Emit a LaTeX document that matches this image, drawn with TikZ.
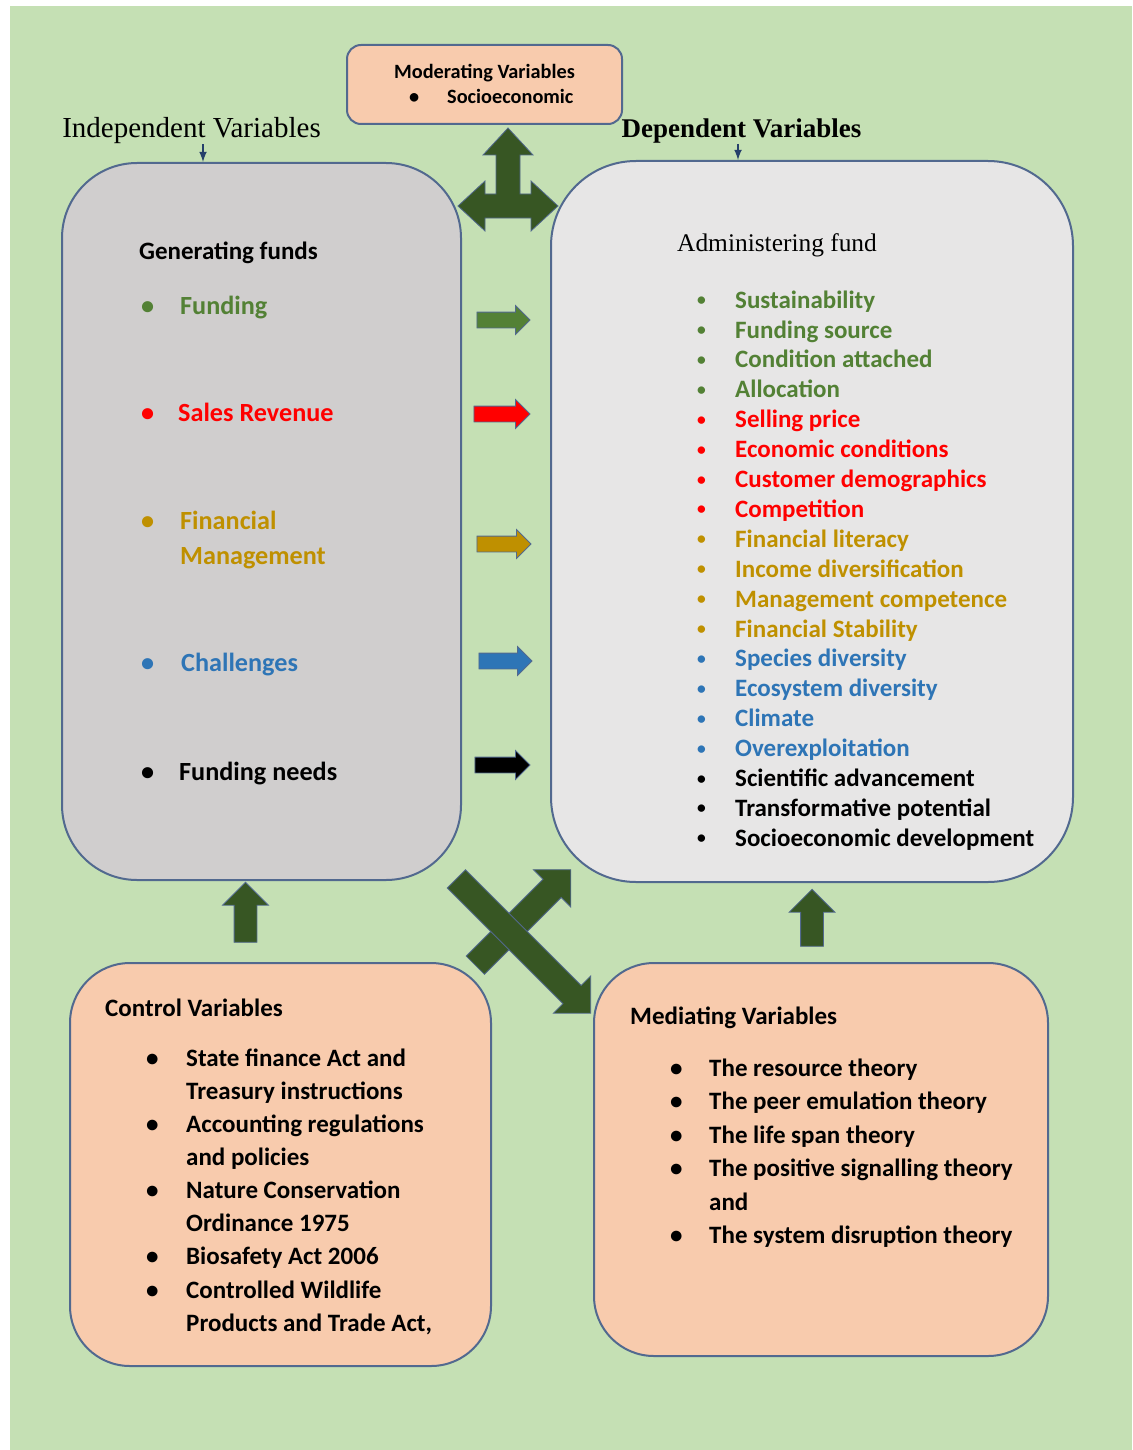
\documentclass[tikz,border=0pt]{standalone}
\usepackage{fontspec}
\setmainfont{Carlito}
\newfontfamily\headfont{Liberation Serif}
\usepackage{xcolor}
\usetikzlibrary{shapes,arrows}

\definecolor{bggreen}{HTML}{C5E0B4}
\definecolor{edgeblue}{HTML}{52698F}
\definecolor{darkgreen}{HTML}{375623}
\definecolor{peach}{HTML}{F8CBAD}
\definecolor{genfill}{HTML}{D0CECE}
\definecolor{admfill}{HTML}{E7E6E6}
\definecolor{tgreen}{HTML}{538135}
\definecolor{tred}{HTML}{FF0000}
\definecolor{tgold}{HTML}{BF9000}
\definecolor{tblue}{HTML}{2E75B6}
\definecolor{navy}{HTML}{26406B}

\newcommand{\itm}[3]{\makebox[#1][l]{\textcolor{#2}{\textbullet}}\textcolor{#2}{#3}}
\newcommand{\itms}[3]{\makebox[#1][l]{\hspace{2pt}\textcolor{#2}{\raisebox{0.1em}{\scalebox{0.7}{\textbullet}}}}\textcolor{#2}{#3}}

\tikzset{
  panel/.style={draw=edgeblue,line width=2pt,inner sep=0pt},
  lbl/.style={inner sep=0pt,anchor=west,text height=20,text depth=3,font=\fontsize{25}{29}\selectfont\bfseries},
  genitem/.style={lbl,font=\fontsize{26.2}{35}\selectfont\bfseries},
  bigarrow/.style={single arrow,draw=edgeblue,line width=0.8pt,fill=darkgreen,inner xsep=0pt,inner ysep=12.5,
    single arrow head extend=13.5,minimum width=0pt},
  smallarrow/.style={single arrow,draw=edgeblue,line width=0.8pt,inner xsep=0pt,inner ysep=7.5,
    single arrow head extend=6.5,minimum width=0pt,minimum height=53},
  uparrow/.style={single arrow,draw=edgeblue,line width=0.8pt,fill=darkgreen,inner xsep=0pt,inner ysep=11,
    single arrow head extend=11.5,minimum width=0pt,rotate=90},
  headarrow/.style={->,>=latex,navy,line width=2.4pt}
}

\begin{document}
\begin{tikzpicture}[x=1pt,y=-1pt]
\useasboundingbox (0,0) rectangle (1132,1450);
\fill[bggreen] (10,6) rectangle (1132,1450);

% moderating box
\node[panel,fill=peach,rounded corners=14,minimum width=275,minimum height=79] (mod) at (484.5,84.5) {};
\node[inner sep=0pt,text height=14,text depth=4,font=\fontsize{20.3}{24}\selectfont\bfseries] (modtitle) at (484.5,73.5) {Moderating Variables};
\node[inner sep=0pt,anchor=west,text height=14,text depth=4,font=\fontsize{20.3}{24}\selectfont\bfseries] (moditem) at (409,98.5) {\makebox[38pt][l]{\textbullet}Socioeconomic};

% headings
\node[inner sep=0pt,anchor=base,font=\headfont\fontsize{29}{33}\selectfont] (indep) at (191.5,138) {Independent Variables};
\node[inner sep=0pt,anchor=base,font=\headfont\fontsize{27}{32}\selectfont\bfseries] (dep) at (741.5,138) {Dependent Variables};

% main boxes
\node[panel,fill=genfill,rounded corners=75,minimum width=399,minimum height=717] (gen) at (261.5,521.5) {};
\node[panel,fill=admfill,rounded corners=85,minimum width=522,minimum height=721] (adm) at (812,521.5) {};

\draw[headarrow] ([xshift=11.5]indep.south) -- ([xshift=11.5]indep.south |- gen.north);
\draw[headarrow] ([xshift=-3.5]dep.south) -- ([xshift=-3.5]dep.south |- adm.north);

% generating funds
\node[lbl] (genhead) at (139,251) {Generating funds};
\node[genitem] (funding) at (141,306) {\itm{39pt}{tgreen}{Funding}};
\node[genitem] (sales) at (141,413) {\itm{37pt}{tred}{Sales Revenue}};
\node[genitem,anchor=north west,text height=,text depth=,align=left] (finman) at (141,505)
  {\strut\itm{39pt}{tgold}{Financial}\\\hspace*{39pt}\textcolor{tgold}{Management}};
\node[genitem] (chall) at (141,663) {\itm{40pt}{tblue}{Challenges}};
\node[genitem] (needs) at (141,772) {\itm{38pt}{black}{Funding needs}};

% administering fund
\node[inner sep=0pt,anchor=base west,font=\headfont\fontsize{25.4}{30}\selectfont] (admhead) at (677,251) {Administering fund};
\node[inner sep=0pt,anchor=north west,align=left,font=\fontsize{25}{29.9}\selectfont\bfseries] (admlist) at (695,287) {%
\strut\itms{40pt}{tgreen}{Sustainability}\\
\itms{40pt}{tgreen}{Funding source}\\
\itms{40pt}{tgreen}{Condition attached}\\
\itms{40pt}{tgreen}{Allocation}\\
\itms{40pt}{tred}{Selling price}\\
\itms{40pt}{tred}{Economic conditions}\\
\itms{40pt}{tred}{Customer demographics}\\
\itms{40pt}{tred}{Competition}\\
\itms{40pt}{tgold}{Financial literacy}\\
\itms{40pt}{tgold}{Income diversification}\\
\itms{40pt}{tgold}{Management competence}\\
\itms{40pt}{tgold}{Financial Stability}\\
\itms{40pt}{tblue}{Species diversity}\\
\itms{40pt}{tblue}{Ecosystem diversity}\\
\itms{40pt}{tblue}{Climate}\\
\itms{40pt}{tblue}{Overexploitation}\\
\itms{40pt}{black}{Scientific advancement}\\
\itms{40pt}{black}{Transformative potential}\\
\itms{40pt}{black}{Socioeconomic development}};

% arrows between the boxes
\node[smallarrow,fill=tgreen] (a1) at (499.5,320) {};
\node[smallarrow,fill=tred,minimum height=56] (a2) at (498,414) {};
\node[smallarrow,fill=tgold,minimum height=54] (a3) at (500,544) {};
\node[smallarrow,fill=tblue] (a4) at (501.5,661) {};
\node[smallarrow,fill=black,minimum height=55] (a5) at (498.5,765) {};

% moderating arrow
\draw[draw=edgeblue,line width=0.8pt,fill=darkgreen] (508,128) -- (533,155) -- (520,155) -- (520,194) -- (531,194)
  -- (531,181) -- (558,206) -- (531,231) -- (531,218) -- (485,218) -- (485,231) -- (458,206) -- (485,181)
  -- (485,194) -- (496,194) -- (496,155) -- (483,155) -- cycle;

% bottom boxes
\node[panel,fill=peach,rounded corners=60,minimum width=421,minimum height=403] (ctrl) at (280.5,1164.5) {};
\node[panel,fill=peach,rounded corners=60,minimum width=454,minimum height=393] (medi) at (821,1159.5) {};

\node[uparrow,minimum height=60] (up1) at (245.5,918) {};
\node[uparrow,minimum height=57] (up2) at (812,923.5) {};

\node[bigarrow,minimum height=135,rotate=45] (cross2) at (518.5,922) {};
\node[bigarrow,minimum height=190,rotate=-45] (cross1) at (519,941.5) {};

% control variables
\node[lbl] (ctrlhead) at (105,1008) {Control Variables};
\node[inner sep=0pt,anchor=north west,align=left,font=\fontsize{25}{33.1}\selectfont\bfseries] (ctrllist) at (146,1043) {%
\strut\itm{40pt}{black}{State finance Act and}\\
\hspace*{40pt}Treasury instructions\\
\itm{40pt}{black}{Accounting regulations}\\
\hspace*{40pt}and policies\\
\itm{40pt}{black}{Nature Conservation}\\
\hspace*{40pt}Ordinance 1975\\
\itm{40pt}{black}{Biosafety Act 2006}\\
\itm{40pt}{black}{Controlled Wildlife}\\
\hspace*{40pt}Products and Trade Act,};

% mediating variables
\node[lbl] (medihead) at (630,1016) {Mediating Variables};
\node[inner sep=0pt,anchor=north west,align=left,font=\fontsize{25}{33.4}\selectfont\bfseries] (medilist) at (670,1053) {%
\strut\itm{39pt}{black}{The resource theory}\\
\itm{39pt}{black}{The peer emulation theory}\\
\itm{39pt}{black}{The life span theory}\\
\itm{39pt}{black}{The positive signalling theory}\\
\hspace*{39pt}and\\
\itm{39pt}{black}{The system disruption theory}};
\end{tikzpicture}
\end{document}
